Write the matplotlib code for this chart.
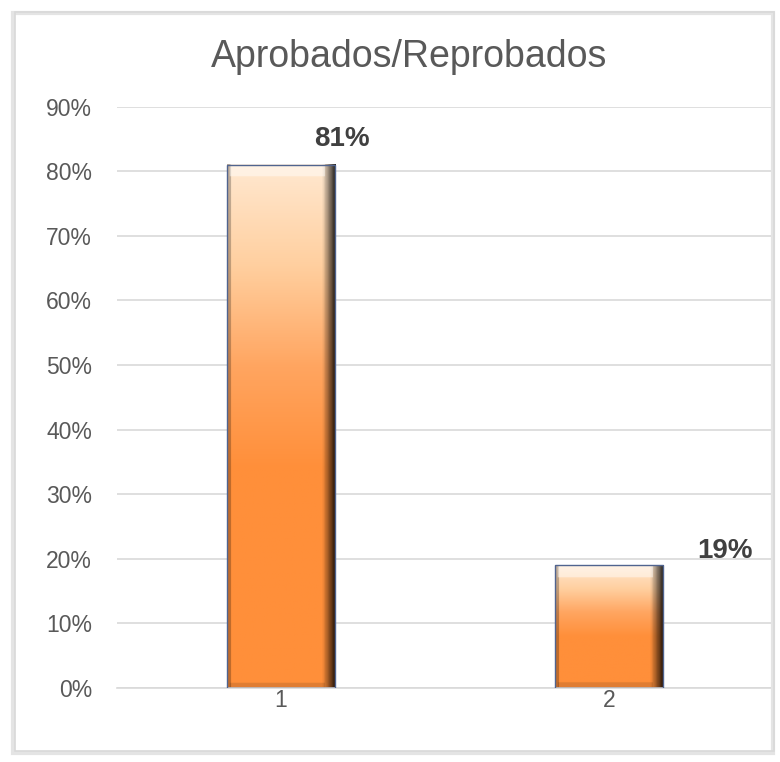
import matplotlib.pyplot as plt
import numpy as np
from matplotlib.patches import Rectangle
from matplotlib.colors import LinearSegmentedColormap

plt.rcParams['font.family'] = ['Liberation Sans', 'DejaVu Sans']

categories = ['1', '2']
values = [0.81, 0.19]
labels = ['81%', '19%']
yticks = [0, 0.1, 0.2, 0.3, 0.4, 0.5, 0.6, 0.7, 0.8, 0.9]

fig = plt.figure(figsize=(7.8, 7.62), dpi=100)
ax = fig.add_axes([0.15, 0.097, 0.841, 0.763])

# outer frame with soft shadow (left and bottom)
fig.patches.append(Rectangle((13 / 780, 9 / 762), 760 / 780, 740 / 762, transform=fig.transFigure,
                             facecolor='none', edgecolor='#e4e4e4', lw=3))
fig.patches.append(Rectangle((15 / 780, 11 / 762), 759 / 780, 739 / 762, transform=fig.transFigure,
                             facecolor='none', edgecolor='#d9d9d9', lw=1.2))

x = np.arange(1, len(values) + 1)
bar_w = 0.33
cmap = LinearSegmentedColormap.from_list('bar', ['#ff8f3a', '#ffa560', '#ffcf9f', '#ffe8d0'])

for xi, v in zip(x, values):
    left, right = xi - bar_w / 2, xi + bar_w / 2
    n = 300
    # vertical gradient: light peach at top, plain orange below the middle
    t = np.linspace(0, 1, n)
    col = np.clip((t - 0.42) / 0.58, 0, 1)
    img = cmap(col)[:, None, :].repeat(80, axis=1)
    # dark bevel on the right side
    h = np.linspace(0, 1, 80)
    shade = np.ones(80)
    m = h > 0.88
    shade[m] = 1 - (h[m] - 0.88) / 0.12 * 0.85
    shade[h < 0.03] = 0.75
    img[:, :, :3] *= shade[None, :, None]
    # top bevel highlight and bottom shade
    px = v * 646
    top = int(n * (1 - 12 / px))
    img[top:, 2:-8, :3] = np.clip(img[top:, 2:-8, :3] * 0.55 + 0.45, 0, 1)
    bot = int(n * 6 / px)
    img[:bot, 2:-8, :3] *= 0.88
    ax.imshow(img, extent=(left, right, 0, v), origin='lower', aspect='auto', zorder=2)
    ax.add_patch(Rectangle((left, 0), bar_w, v, facecolor='none', edgecolor='#50648f', lw=1, zorder=3))

ax.text(1.186, 0.850, labels[0], ha='center', va='center', fontsize=20, fontweight='bold', color='#404040')
ax.text(2.354, 0.212, labels[1], ha='center', va='center', fontsize=20, fontweight='bold', color='#404040')

ax.set_xlim(0.5, 2.5)
ax.set_ylim(0, 0.9)
ax.set_xticks(x)
ax.set_xticklabels(categories)
ax.set_yticks(yticks)
ax.set_yticklabels([f'{int(round(t * 100))}%' for t in yticks])
ax.tick_params(length=0, labelsize=16.5, labelcolor='#595959')
ax.tick_params(axis='y', pad=18)
ax.tick_params(axis='x', pad=1)
ax.grid(axis='y', color='#d9d9d9', lw=1.2)
ax.set_axisbelow(True)
for s in ['top', 'right', 'left']:
    ax.spines[s].set_visible(False)
ax.spines['bottom'].set_color('#d9d9d9')
ax.spines['bottom'].set_linewidth(1.2)
ax.patch.set_alpha(0)

fig.text(0.524, 0.925, 'Aprobados/Reprobados', ha='center', va='center', fontsize=27, color='#595959')

fig.savefig('out.png', dpi=100)
